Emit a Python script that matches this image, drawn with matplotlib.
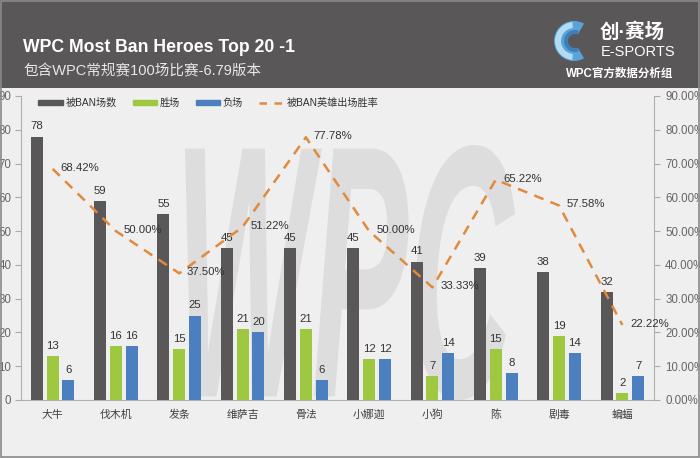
import matplotlib
matplotlib.use("Agg")
import matplotlib.pyplot as plt
import numpy as np
from matplotlib.patches import Rectangle, Wedge, PathPatch
from matplotlib.lines import Line2D
from matplotlib.ticker import FuncFormatter
from matplotlib.textpath import TextPath
from matplotlib.font_manager import FontProperties

plt.rcParams['font.family'] = ['Liberation Sans', 'Noto Sans CJK SC', 'DejaVu Sans']

heroes = ['大牛', '伐木机', '发条', '维萨吉', '骨法', '小娜迦', '小狗', '陈', '剧毒', '蝙蝠']
ban_counts = [78, 59, 55, 45, 45, 45, 41, 39, 38, 32]
wins = [13, 16, 15, 21, 21, 12, 7, 15, 19, 2]
losses = [6, 16, 25, 20, 6, 12, 14, 8, 14, 7]
win_rate = [68.42, 50.00, 37.50, 51.22, 77.78, 50.00, 33.33, 65.22, 57.58, 22.22]

title = 'WPC Most Ban Heroes Top 20 -1'
subtitle = '包含WPC常规赛100场比赛-6.79版本'
legend_labels = ['被BAN场数', '胜场', '负场', '被BAN英雄出场胜率']

c_dark = '#595757'
c_green = '#9dc83f'
c_blue = '#4b7fc0'
c_orange = '#e08a3c'

W, H = 700, 458
fig = plt.figure(figsize=(7, 4.58), dpi=100)
fig.patch.set_facecolor('#efefef')

# header band
fig.patches.append(Rectangle((0, 1 - 88 / H), 1, 88 / H, transform=fig.transFigure,
                             facecolor=c_dark, edgecolor='none', zorder=-2))
# outer border
fig.patches.append(Rectangle((0.001, 0.002), 0.998, 0.996, transform=fig.transFigure,
                             facecolor='none', edgecolor='#8a8a8a', lw=1.2, zorder=5))

fig.text(23 / W, 1 - 48 / H, title, color='white', fontsize=12.7, fontweight='bold',
         va='center', ha='left')
fig.text(23 / W, 1 - 72 / H, subtitle, color='#e8e8e8', fontsize=10.5,
         va='center', ha='left')
fig.text(600 / W, 1 - 32 / H, '创·赛场', color='white', fontsize=14, fontweight='bold',
         va='center', ha='left')
fig.text(601 / W, 1 - 52 / H, 'E-SPORTS', color='white', fontsize=10.5,
         va='center', ha='left')
fig.text(673 / W, 1 - 74 / H, 'WPC官方数据分析组', color='white', fontsize=8.3, fontweight='bold',
         va='center', ha='right')
# logo approximation
logo_ax = fig.add_axes([554 / W, 1 - 66 / H, 40 / W, 50 / H])
logo_ax.set_xlim(-1, 1); logo_ax.set_ylim(-1.25, 1.25); logo_ax.axis('off')
logo_ax.add_patch(Wedge((0, 0), 1.0, 60, 300, width=0.6, facecolor='#5aa3d8', edgecolor='none'))
logo_ax.add_patch(Wedge((0, 0), 0.95, 95, 265, width=0.3, facecolor='#b3dcf4', edgecolor='none'))
logo_ax.add_patch(Wedge((0.05, 0), 0.55, 70, 290, width=0.2, facecolor='#3d7fb8', edgecolor='none'))

# watermark
wm_ax = fig.add_axes([185 / W, 58 / H, 330 / W, 255 / H])
wm_ax.axis('off')
tp = TextPath((0, 0), 'WPC', size=1, prop=FontProperties(family='Liberation Sans', weight='bold', style='italic'))
ext = tp.get_extents()
wm_ax.add_patch(PathPatch(tp, facecolor='#dddddd', edgecolor='none'))
wm_ax.set_xlim(ext.x0, ext.x1); wm_ax.set_ylim(ext.y0, ext.y1)

ax = fig.add_axes([21 / W, 58 / H, (654 - 21) / W, (400 - 96) / H])
ax.patch.set_alpha(0)

x = np.arange(len(heroes))
bw = 0.19
off = 0.25
b1 = ax.bar(x - off, ban_counts, bw, color=c_dark, zorder=3)
b2 = ax.bar(x, wins, bw, color=c_green, zorder=3)
b3 = ax.bar(x + off, losses, bw, color=c_blue, zorder=3)
for bars, vals in ((b1, ban_counts), (b2, wins), (b3, losses)):
    for r, v in zip(bars, vals):
        ax.text(r.get_x() + r.get_width() / 2, v + 1.5, str(v), ha='center', va='bottom',
                fontsize=8.2, color='#333333', zorder=5)

ax.set_xlim(-0.5, len(heroes) - 0.5)
ax.set_ylim(0, 90)
ax.set_yticks(range(0, 91, 10))
ax.set_xticks(x)
ax.set_xticklabels(heroes, fontsize=7.8, color='#404040')
ax.tick_params(axis='x', length=0, pad=7)
ax.tick_params(axis='y', colors='#666666', labelsize=8.3, length=4, direction='out', pad=3, color='#aaaaaa')
for s in ('top', 'right'):
    ax.spines[s].set_visible(False)
ax.spines['left'].set_color('#b0b0b0')
ax.spines['bottom'].set_color('#b0b0b0')

ax2 = ax.twinx()
ax2.plot(x, win_rate, color=c_orange, lw=1.8, ls=(0, (4, 3)), zorder=4)
ax2.set_ylim(0, 90)
ax2.set_yticks(range(0, 91, 10))
ax2.yaxis.set_major_formatter(FuncFormatter(lambda v, p: f'{v:.2f}%'))
ax2.tick_params(axis='y', colors='#666666', labelsize=8.3, length=4, direction='out', pad=4, color='#aaaaaa')
for s in ('top', 'left', 'bottom'):
    ax2.spines[s].set_visible(False)
ax2.spines['right'].set_color('#b0b0b0')
for xi, v in zip(x, win_rate):
    ax2.text(xi + 0.12, v + 0.3, f'{v:.2f}%', ha='left', va='center', fontsize=8.2,
             color='#333333', zorder=5)

handles = [Rectangle((0, 0), 1, 1, color=c_dark), Rectangle((0, 0), 1, 1, color=c_green),
           Rectangle((0, 0), 1, 1, color=c_blue),
           Line2D([0], [0], color=c_orange, lw=1.8, ls=(0, (3, 3)))]
leg = ax.legend(handles, legend_labels, ncol=4, loc='upper left', bbox_to_anchor=(0.013, 1.025),
                frameon=False, fontsize=7.3, handlelength=2.4, handleheight=0.4,
                columnspacing=1.6, handletextpad=0.25)
for t in leg.get_texts():
    t.set_color('#333333')

fig.savefig('out.png', dpi=100, facecolor=fig.get_facecolor())
